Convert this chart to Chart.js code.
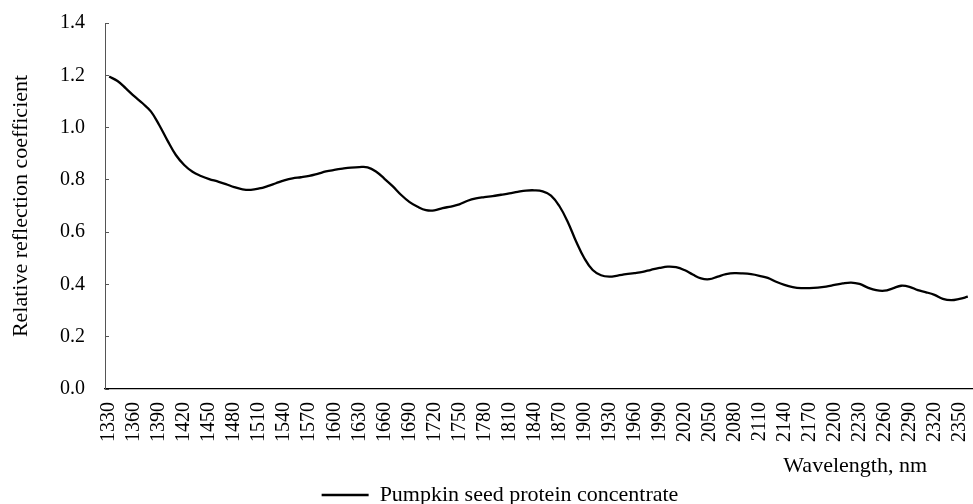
<!DOCTYPE html>
<html>
<head>
<meta charset="utf-8">
<script src="https://cdn.jsdelivr.net/npm/chart.js@4/dist/chart.umd.min.js"></script>
<style>
html,body{margin:0;padding:0;background:#fff;}
#wrap{width:973px;height:504px;}
</style>
</head>
<body>
<div id="wrap"><canvas id="c" width="973" height="504"></canvas></div>
<script>
const wavelengths = [
  1330,1340,1350,1360,1370,1380,1390,1400,1410,1420,
  1430,1440,1450,1460,1470,1480,1490,1500,1510,1520,
  1530,1540,1550,1560,1570,1580,1590,1600,1610,1620,
  1630,1640,1650,1660,1670,1680,1690,1700,1710,1720,
  1730,1740,1750,1760,1770,1780,1790,1800,1810,1820,
  1830,1840,1850,1860,1870,1880,1890,1900,1910,1920,
  1930,1940,1950,1960,1970,1980,1990,2000,2010,2020,
  2030,2040,2050,2060,2070,2080,2090,2100,2110,2120,
  2130,2140,2150,2160,2170,2180,2190,2200,2210,2220,
  2230,2240,2250,2260,2270,2280,2290,2300,2310,2320,
  2330,2340,2350,2360
];
const reflection = [
  1.195,1.178,1.150,1.120,1.093,1.062,1.010,0.950,0.895,0.857,
  0.831,0.815,0.803,0.794,0.784,0.772,0.764,0.762,0.767,0.776,
  0.787,0.798,0.806,0.810,0.815,0.823,0.832,0.838,0.843,0.847,
  0.849,0.848,0.832,0.805,0.776,0.743,0.716,0.697,0.684,0.683,
  0.692,0.698,0.706,0.720,0.729,0.734,0.738,0.743,0.748,0.754,
  0.759,0.760,0.756,0.740,0.700,0.640,0.565,0.500,0.455,0.435,
  0.430,0.434,0.439,0.443,0.448,0.456,0.463,0.468,0.466,0.455,
  0.438,0.423,0.420,0.430,0.439,0.443,0.442,0.439,0.433,0.425,
  0.410,0.398,0.390,0.386,0.386,0.388,0.392,0.398,0.404,0.407,
  0.402,0.388,0.378,0.376,0.385,0.395,0.391,0.378,0.370,0.360,
  0.345,0.340,0.345,0.353
];
const shownTickLabels = [
  1330,1360,1390,1420,1450,1480,1510,1540,1570,1600,1630,1660,1690,1720,1750,1780,1810,1840,
  1870,1900,1930,1960,1990,2020,2050,2080,2110,2140,2170,2200,2230,2260,2290,2320,2350
];
const seriesName = 'Pumpkin seed protein concentrate';
const yTitle = 'Relative reflection coefficient';
const xTitle = 'Wavelength, nm';

const FONT = '"Liberation Serif", "Times New Roman", serif';

const xTitlePlugin = {
  id: 'xTitlePlugin',
  afterDraw(chart) {
    const {ctx, chartArea} = chart;
    ctx.save();
    ctx.font = '22px ' + FONT;
    ctx.fillStyle = '#000';
    ctx.textAlign = 'right';
    ctx.textBaseline = 'alphabetic';
    ctx.fillText(xTitle, chartArea.right - 45, chartArea.bottom + 83);
    ctx.restore();
  }
};
const legendShift = {
  id: 'legendShift',
  afterLayout(chart) {
    const lg = chart.legend;
    if (!lg) return;
    lg.left += 14; lg.right += 14;
    lg.top += 12; lg.bottom += 12;
  }
};

new Chart(document.getElementById('c'), {
  type: 'line',
  data: {
    labels: wavelengths,
    datasets: [{
      label: seriesName,
      data: reflection,
      borderColor: '#000',
      backgroundColor: '#000',
      borderWidth: 2.3,
      pointRadius: 0,
      pointHoverRadius: 0,
      tension: 0.4,
      fill: false
    }]
  },
  options: {
    responsive: false,
    animation: false,
    devicePixelRatio: 1,
    layout: { padding: { top: 23, right: 1, bottom: 0, left: 0 } },
    plugins: {
      legend: {
        display: true,
        position: 'bottom',
        labels: {
          usePointStyle: true,
          pointStyle: 'line',
          pointStyleWidth: 47,
          padding: 0,
          color: '#000',
          font: { family: FONT, size: 22 }
        }
      },
      tooltip: { enabled: false }
    },
    scales: {
      x: {
        type: 'category',
        offset: true,
        grid: { display: false, drawTicks: false },
        border: { display: true, color: '#000', width: 1.3 },
        ticks: {
          autoSkip: false,
          maxRotation: 90,
          minRotation: 90,
          padding: 13,
          color: '#000',
          font: { family: FONT, size: 20 },
          callback: function(value, index) {
            const w = wavelengths[index];
            return shownTickLabels.includes(w) ? String(w) : '';
          }
        },
        afterFit(scale) {
          scale.height = 83;
          scale.paddingLeft = 0;
          scale.paddingRight = 0;
        }
      },
      y: {
        min: 0,
        max: 1.4,
        grid: { display: true, drawOnChartArea: false, drawTicks: true, tickLength: -4, color: '#555', lineWidth: 1 },
        border: { display: true, color: '#555', width: 1 },
        ticks: {
          stepSize: 0.2,
          padding: 24,
          color: '#000',
          font: { family: FONT, size: 20 },
          callback: v => Number(v).toFixed(1)
        },
        title: {
          display: true,
          text: yTitle,
          color: '#000',
          font: { family: FONT, size: 22 },
          padding: { top: 8, bottom: 0 }
        },
        afterFit(scale) {
          scale.width = 105;
          scale.paddingTop = 0;
          scale.paddingBottom = 0;
        }
      }
    }
  },
  plugins: [xTitlePlugin, legendShift]
});
</script>
</body>
</html>
